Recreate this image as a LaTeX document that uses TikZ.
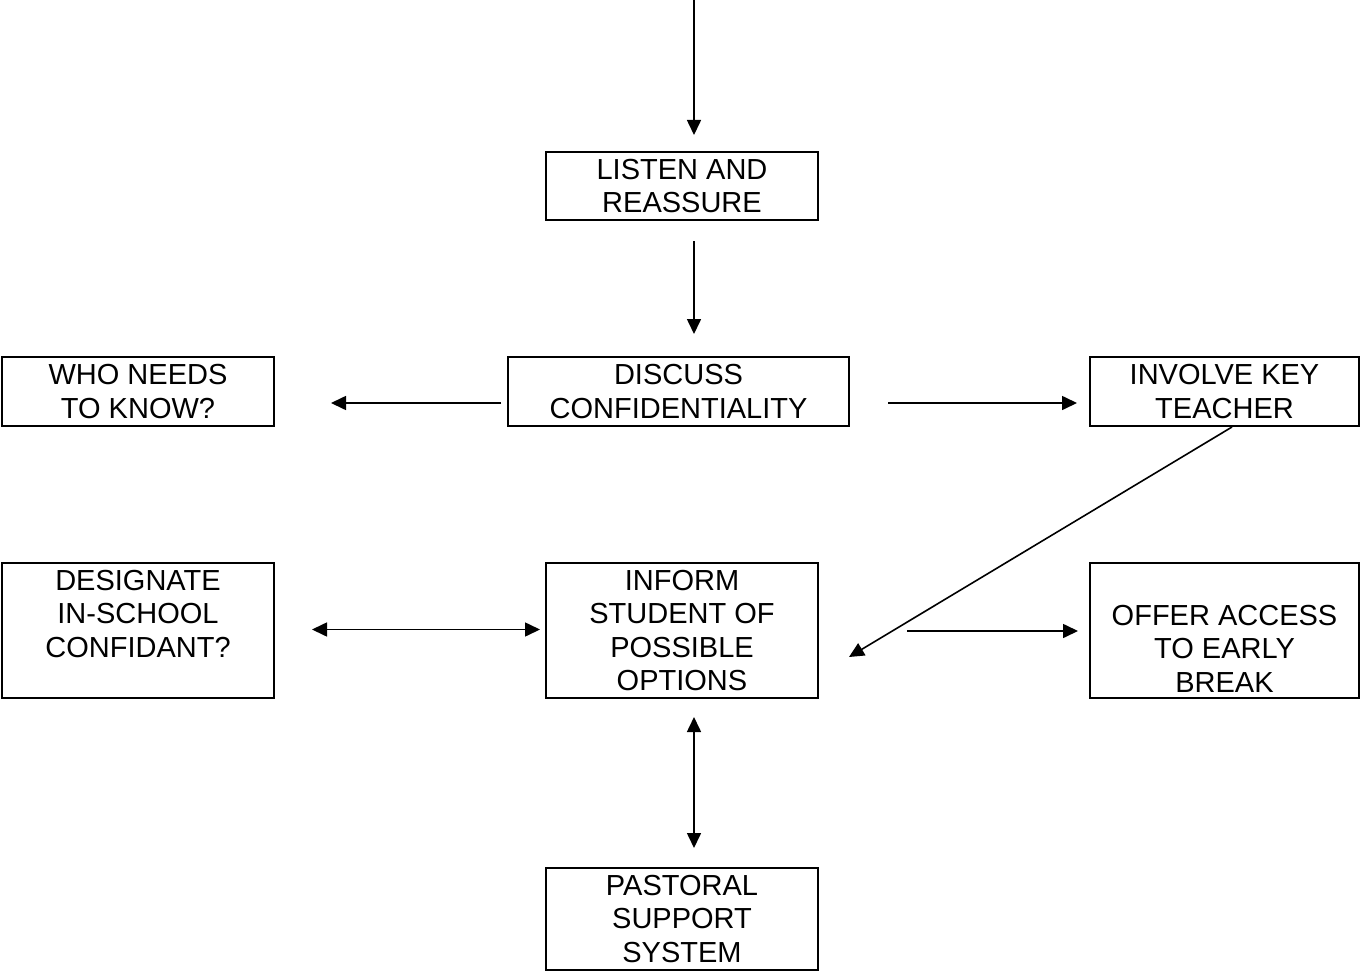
\documentclass[tikz,border=0pt]{standalone}
\usepackage{fontspec}
\setmainfont{Liberation Sans}
\usetikzlibrary{arrows.meta}
\tikzset{
  box/.style={draw, line width=2pt, rectangle, inner sep=0pt, align=center,
    font=\fontsize{29pt}{33.5pt}\selectfont},
  tip/.tip={Triangle[length=15pt,width=14pt]},
  arr/.style={line width=1.6pt, -tip},
  darr/.style={line width=1.6pt, tip-tip}
}
\begin{document}
\begin{tikzpicture}[x=1pt,y=-1pt]
\useasboundingbox (0,0) rectangle (1360,971);
\node[box, minimum width=272pt, minimum height=68pt] (L) at (682,186) {LISTEN AND\\REASSURE};
\node[box, minimum width=272pt, minimum height=69pt] (W) at (138,391.5) {WHO NEEDS\\TO KNOW?};
\node[box, minimum width=341pt, minimum height=69pt] (D) at (678.5,391.5) {DISCUSS\\CONFIDENTIALITY};
\node[box, minimum width=269pt, minimum height=69pt] (K) at (1224.5,391.5) {INVOLVE KEY\\TEACHER};
\node[box, minimum width=272pt, minimum height=135pt] (G) at (138,630.5) {DESIGNATE\\IN-SCHOOL\\CONFIDANT?\\~};
\node[box, minimum width=272pt, minimum height=135pt] (F) at (682,630.5) {INFORM\\STUDENT OF\\POSSIBLE\\OPTIONS};
\node[box, minimum width=269pt, minimum height=135pt] (O) at (1224.5,630.5) {\strut\\OFFER ACCESS\\TO EARLY\\BREAK};
\node[box, minimum width=272pt, minimum height=102pt] (P) at (682,919) {PASTORAL\\SUPPORT\\SYSTEM};
\coordinate (top) at (694,0);
\draw[arr, shorten >=16pt] (top) -- ([xshift=12pt]L.north);
\draw[arr, shorten <=20pt, shorten >=22pt] ([xshift=12pt]L.south) -- ([xshift=15.5pt]D.north);
\draw[arr, shorten <=6pt, shorten >=56pt] ([yshift=-11.5pt]D.west) -- ([yshift=-11.5pt]W.east);
\draw[arr, shorten <=38pt, shorten >=12pt] ([yshift=-11.5pt]D.east) -- ([yshift=-11.5pt]K.west);
\draw[arr] ([xshift=7.5pt]K.south) -- ([shift={(30pt,-26.5pt)}]F.east);
\draw[darr, shorten <=37pt, shorten >=5pt] ([yshift=1pt]G.east) -- ([yshift=1pt]F.west);
\draw[arr, shorten <=88pt, shorten >=11pt] ([yshift=-0.5pt]F.east) -- ([yshift=-0.5pt]O.west);
\draw[darr, shorten <=18pt, shorten >=19pt] ([xshift=12pt]F.south) -- ([xshift=12pt]P.north);
\end{tikzpicture}
\end{document}
